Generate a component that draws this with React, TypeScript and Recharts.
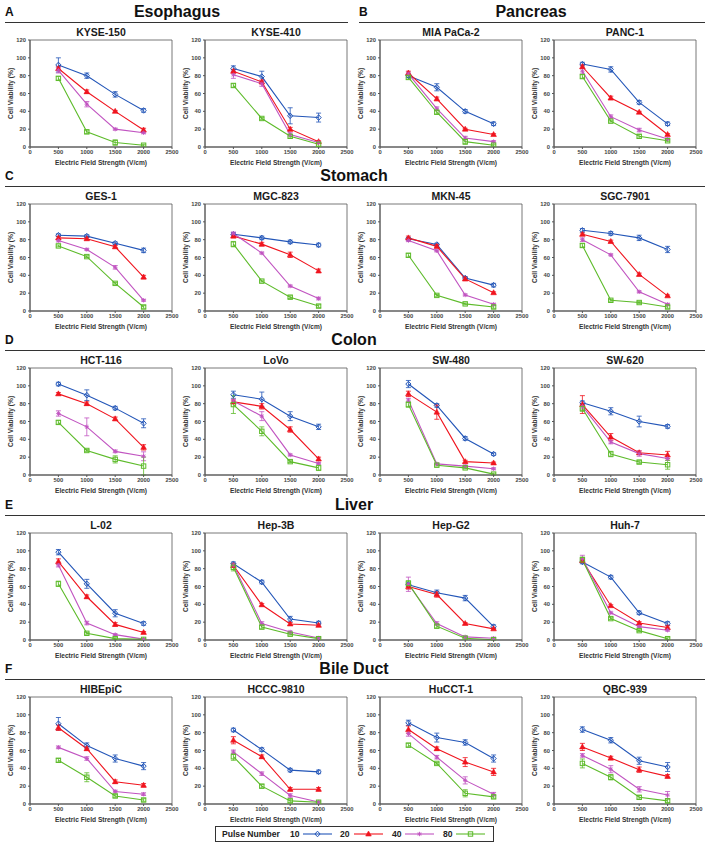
import React from 'react';
import { LineChart, Line, XAxis, YAxis, ErrorBar, ReferenceArea } from 'recharts';

// ---------- shared axes / categories ----------
const pulseNumbers = ['10', '20', '40', '80'];
const fieldStrengths = [500, 1000, 1500, 2000];
const xTicks = [0, 500, 1000, 1500, 2000, 2500];
const yTicks = [0, 20, 40, 60, 80, 100, 120];
const sectionLetters = ['A', 'B', 'C', 'D', 'E', 'F'];
const sectionTitles = ['Esophagus', 'Pancreas', 'Stomach', 'Colon', 'Liver', 'Bile Duct'];
const xAxisTitle = 'Electric Field Strength (V/cm)';
const yAxisTitle = 'Cell Viability (%)';

// ---------- values: rows = pulse 10, 20, 40, 80 ----------
const kyse150 = [[92, 80, 59, 41], [88, 62, 40, 19], [86, 48, 20, 16], [77, 17, 5, 2]];
const kyse150Err = [[8, 3, 3, 2], [2, 2, 1, 2], [3, 3, 1, 1], [2, 2, 3, 1]];
const kyse410 = [[88, 79, 35, 33], [85, 73, 20, 6], [81, 71, 14, 5], [69, 32, 12, 3]];
const kyse410Err = [[3, 6, 9, 5], [2, 2, 2, 1], [4, 3, 2, 1], [2, 1, 2, 2]];
const miaPaca2 = [[80, 67, 40, 26], [83, 54, 20, 14], [82, 43, 10, 6], [78, 39, 6, 2]];
const miaPaca2Err = [[2, 4, 2, 2], [2, 2, 1, 1], [2, 2, 2, 1], [2, 2, 3, 1]];
const panc1 = [[93, 87, 50, 26], [90, 55, 39, 14], [85, 34, 19, 9], [79, 29, 12, 7]];
const panc1Err = [[2, 3, 2, 2], [2, 2, 1, 1], [3, 2, 2, 1], [2, 1, 2, 1]];

const ges1 = [[85, 84, 76, 68], [82, 81, 72, 38], [79, 69, 49, 12], [73, 61, 31, 4.5]];
const ges1Err = [[1.5, 1.5, 1.5, 2.5], [1.5, 1.5, 1.5, 2], [1.5, 1, 2, 1], [1, 1, 1, 1.5]];
const mgc823 = [[86, 82, 77.5, 74], [84, 75, 63, 45], [87, 65, 28, 14], [75, 33.5, 15.5, 5.5]];
const mgc823Err = [[2, 2, 2, 2], [2, 2, 3, 2], [1.5, 1, 1, 1.5], [3, 1, 1.5, 1.5]];
const mkn45 = [[81, 74.5, 37, 29], [82, 72.5, 36, 20.5], [79, 67.5, 18, 7.5], [62.5, 17.5, 8, 4.5]];
const mkn45Err = [[1.5, 1.5, 1.5, 2], [2, 2, 2, 1], [1, 1, 1, 1], [2, 1, 1, 1.5]];
const sgc7901 = [[90.5, 87, 82, 69], [86, 78, 41, 17], [80, 63, 21.5, 7.5], [73.5, 12, 9.5, 4.5]];
const sgc7901Err = [[2, 2, 3, 3.5], [1.5, 1.5, 1.5, 1], [2, 1, 1, 1], [2, 1, 1, 1.5]];

const hct116 = [[102, 89.5, 75, 58], [91, 80, 63, 31], [69, 54, 26.5, 21], [59, 27.5, 17.5, 10]];
const hct116Err = [[2, 6, 2, 5], [1.5, 2, 2, 3], [3, 10, 1.5, 5], [2, 1, 4, 10]];
const lovo = [[90, 85, 66, 54], [82, 77, 51, 18], [83, 66, 22.5, 13], [79, 49, 15, 8]];
const lovoErr = [[4, 8, 5, 3], [2, 3, 3, 2], [2, 5, 1, 1], [10, 5, 1, 3]];
const sw480 = [[102, 78, 41, 23.5], [91, 70.5, 15, 13.5], [84, 12.5, 10, 7], [79, 11, 8, 1]];
const sw480Err = [[4, 2, 2, 1.5], [3, 8, 1.5, 1], [2, 1, 1, 1], [3, 1, 1, 1]];
const sw620 = [[81, 71.5, 60, 54.5], [79, 42.5, 25, 22.5], [77, 37, 24, 18.5], [74.5, 23.5, 14.5, 11.5]];
const sw620Err = [[2, 4, 6, 2], [10, 4, 2, 4], [3, 2, 3, 2], [3, 3, 1.5, 5]];

const l02 = [[98.5, 63, 30, 18.5], [88, 48.5, 17.5, 8.5], [84, 19, 6, 1], [63, 7.5, 1.5, 0.7]];
const l02Err = [[3, 5, 4, 2], [3, 2, 2, 1], [2, 2, 1, 0.5], [3, 1, 1, 0.5]];
const hep3b = [[85.5, 65, 23.5, 19], [83.5, 39.5, 18, 16.5], [84, 18.5, 9, 2.2], [81.5, 14.5, 6.5, 1.5]];
const hep3bErr = [[2, 2, 3, 2], [2, 1.5, 1.5, 1.5], [2, 2, 1, 1], [4, 2, 1, 1]];
const hepG2 = [[62, 53, 47, 15], [60, 51, 18.5, 12.5], [62.5, 18.5, 3.5, 2], [63.5, 15.5, 2, 0.3]];
const hepG2Err = [[2, 3, 3, 2], [3, 3, 1, 1], [8, 2, 1, 1], [3, 2, 1, 0.5]];
const huh7 = [[87.5, 70.5, 30.5, 18.5], [89, 38.5, 19, 14], [91, 30.5, 15, 11], [90, 24, 10.5, 1.5]];
const huh7Err = [[2, 2, 2, 2], [2, 1, 1.5, 2], [4, 1, 1, 1], [3, 1, 1, 1]];

const hibepic = [[90, 65.5, 51, 42.5], [85.5, 62, 25, 21], [63.5, 51, 14, 11], [49, 30, 9, 4.5]];
const hibepicErr = [[7, 3, 4, 4], [3, 2, 2, 2], [1.5, 2, 1.5, 1.5], [2, 5, 1.5, 1.5]];
const hccc9810 = [[83, 61, 38, 36], [71.5, 53, 16.5, 16.5], [58.5, 34, 9.5, 2.2], [53, 20, 3.5, 2]];
const hccc9810Err = [[2, 2, 2, 2], [4, 2, 2, 2], [2, 2, 2, 1], [4, 2, 2, 1]];
const hucct1 = [[91, 74.5, 69, 51], [83.5, 62, 47, 36], [79, 52.5, 26.5, 11], [66, 45.5, 12, 8]];
const hucct1Err = [[3, 5, 3, 4], [4, 2, 5, 4], [3, 2, 4, 2], [2, 1, 4, 1.5]];
const qbc939 = [[83.5, 71.5, 48.5, 41.5], [64, 51.5, 38.5, 31], [54.5, 39, 16.5, 10], [45.5, 30, 7.5, 3.5]];
const qbc939Err = [[3, 3, 4, 5], [4, 2, 3, 2], [2, 4, 3, 4], [5, 3, 2, 2]];

// ---------- panel table ----------
const panels: [string, number[][], number[][], number, number][] = [
  ['KYSE-150', kyse150, kyse150Err, 0, 0],
  ['KYSE-410', kyse410, kyse410Err, 0, 1],
  ['MIA PaCa-2', miaPaca2, miaPaca2Err, 0, 2],
  ['PANC-1', panc1, panc1Err, 0, 3],
  ['GES-1', ges1, ges1Err, 1, 0],
  ['MGC-823', mgc823, mgc823Err, 1, 1],
  ['MKN-45', mkn45, mkn45Err, 1, 2],
  ['SGC-7901', sgc7901, sgc7901Err, 1, 3],
  ['HCT-116', hct116, hct116Err, 2, 0],
  ['LoVo', lovo, lovoErr, 2, 1],
  ['SW-480', sw480, sw480Err, 2, 2],
  ['SW-620', sw620, sw620Err, 2, 3],
  ['L-02', l02, l02Err, 3, 0],
  ['Hep-3B', hep3b, hep3bErr, 3, 1],
  ['Hep-G2', hepG2, hepG2Err, 3, 2],
  ['Huh-7', huh7, huh7Err, 3, 3],
  ['HIBEpiC', hibepic, hibepicErr, 4, 0],
  ['HCCC-9810', hccc9810, hccc9810Err, 4, 1],
  ['HuCCT-1', hucct1, hucct1Err, 4, 2],
  ['QBC-939', qbc939, qbc939Err, 4, 3],
];

// ---------- styling / layout ----------
const colors = ['#2356b8', '#f0141e', '#c154c1', '#5dbb2a'];
const FONT = 'Arial, "Liberation Sans", Helvetica, sans-serif';
const colLeft = [30, 205, 380, 554];
const rowTop = [40, 204, 368, 533, 697];
const PW = 142;
const PH = 107;
const AXW = 30;
const MT = 4;
const MR = 9;
const XH = 12;

const Marker = ({ k, cx, cy }: { k: number; cx: number; cy: number }) => {
  const c = colors[k];
  if (k === 0) {
    return (
      <polygon
        points={`${cx},${cy - 2.8} ${cx + 2.6},${cy} ${cx},${cy + 2.8} ${cx - 2.6},${cy}`}
        fill="none"
        stroke={c}
        strokeWidth={1}
      />
    );
  }
  if (k === 1) {
    return (
      <polygon
        points={`${cx},${cy - 3} ${cx + 2.8},${cy + 2} ${cx - 2.8},${cy + 2}`}
        fill={c}
        stroke={c}
        strokeWidth={0.6}
      />
    );
  }
  if (k === 2) {
    return (
      <g stroke={c} strokeWidth={0.9}>
        <line x1={cx - 2.2} y1={cy} x2={cx + 2.2} y2={cy} />
        <line x1={cx} y1={cy - 2.2} x2={cx} y2={cy + 2.2} />
        <line x1={cx - 1.6} y1={cy - 1.6} x2={cx + 1.6} y2={cy + 1.6} />
        <line x1={cx - 1.6} y1={cy + 1.6} x2={cx + 1.6} y2={cy - 1.6} />
      </g>
    );
  }
  return <rect x={cx - 2.2} y={cy - 2.2} width={4.4} height={4.4} fill="none" stroke={c} strokeWidth={1} />;
};

const makeDot = (k: number) => (p: any) => {
  const { cx, cy, index } = p;
  if (cx == null || cy == null) return <g key={`d${k}-${index}`} />;
  return (
    <g key={`d${k}-${index}`}>
      <Marker k={k} cx={cx} cy={cy} />
    </g>
  );
};

const YLabel = (props: any) => {
  const vb = props.viewBox || {};
  const x = (vb.x || 0) + 10;
  const y = (vb.y || 0) + (vb.height || 0) / 2;
  return (
    <text
      x={x}
      y={y}
      transform={`rotate(-90 ${x} ${y})`}
      textAnchor="middle"
      dominantBaseline="central"
      fontSize={6.6}
      fontWeight="bold"
      fontFamily={FONT}
      fill="#333"
      style={{ fill: '#333' }}
    >
      {yAxisTitle}
    </text>
  );
};

const tickStyle = { fontSize: 5.8, fill: '#444', fontWeight: 'bold' as const, fontFamily: FONT };

function Panel({ name, vals, errs, left, top }: { name: string; vals: number[][]; errs: number[][]; left: number; top: number }) {
  const data = fieldStrengths.map((x, i) => {
    const r: any = { x };
    vals.forEach((s, k) => {
      r['s' + k] = s[i];
      r['e' + k] = errs[k][i];
    });
    return r;
  });
  return (
    <>
      <div
        style={{
          position: 'absolute',
          left,
          top: top - 15,
          width: PW,
          height: 14,
          lineHeight: '14px',
          textAlign: 'center',
          fontFamily: FONT,
          fontWeight: 'bold',
          fontSize: 10.5,
          color: '#1a1a1a',
          whiteSpace: 'nowrap',
        }}
      >
        {name}
      </div>
      <div
        style={{
          position: 'absolute',
          left,
          top: top + PH + 11,
          width: PW,
          height: 10,
          lineHeight: '10px',
          textAlign: 'center',
          fontFamily: FONT,
          fontWeight: 'bold',
          fontSize: 6.6,
          color: '#333',
          whiteSpace: 'nowrap',
        }}
      >
        {xAxisTitle}
      </div>
      <div style={{ position: 'absolute', left: left - AXW, top: top - MT }}>
        <LineChart
          width={AXW + PW + MR}
          height={MT + PH + XH}
          data={data}
          margin={{ top: MT, right: MR, bottom: 0, left: 0 }}
        >
          <ReferenceArea x1={0} x2={2500} y1={0} y2={120} fill="none" stroke="#555" strokeWidth={0.8} ifOverflow="visible" />
          <XAxis
            type="number"
            dataKey="x"
            domain={[0, 2500]}
            ticks={xTicks}
            interval={0}
            height={XH}
            tick={tickStyle}
            tickSize={2}
            tickMargin={1}
            stroke="#555"
            allowDataOverflow
          />
          <YAxis
            type="number"
            domain={[0, 120]}
            ticks={yTicks}
            interval={0}
            width={AXW}
            tick={tickStyle}
            tickSize={2}
            tickMargin={2}
            stroke="#555"
            allowDataOverflow
            label={<YLabel />}
          />
          {vals.map((_, k) => (
            <Line
              key={k}
              type="linear"
              dataKey={'s' + k}
              stroke={colors[k]}
              strokeWidth={1.1}
              dot={makeDot(k)}
              activeDot={false}
              isAnimationActive={false}
            >
              <ErrorBar dataKey={'e' + k} width={2.5} strokeWidth={0.8} stroke={colors[k]} direction="y" />
            </Line>
          ))}
        </LineChart>
      </div>
    </>
  );
}

function SectionHeader({ letter, title, top, x0, x1, centerX }: { letter: string; title: string; top: number; x0: number; x1: number; centerX: number }) {
  return (
    <>
      <div
        style={{
          position: 'absolute',
          left: x0,
          top: top - 28 - 8,
          height: 16,
          lineHeight: '16px',
          fontFamily: FONT,
          fontWeight: 'bold',
          fontSize: 12,
          color: '#111',
        }}
      >
        {letter}
      </div>
      <div
        style={{
          position: 'absolute',
          left: centerX - 100,
          width: 200,
          top: top - 28 - 10,
          height: 20,
          lineHeight: '20px',
          textAlign: 'center',
          fontFamily: FONT,
          fontWeight: 'bold',
          fontSize: 16,
          color: '#111',
        }}
      >
        {title}
      </div>
      <div style={{ position: 'absolute', left: x0, width: x1 - x0, top: top - 18, height: 0, borderTop: '1.5px solid #333' }} />
    </>
  );
}

function LegendBox() {
  const items = [
    { tx: 290, lx: 303 },
    { tx: 340, lx: 354 },
    { tx: 392, lx: 405 },
    { tx: 443, lx: 456 },
  ];
  return (
    <svg style={{ position: 'absolute', left: 0, top: 0 }} width={708} height={849}>
      <rect x={215.5} y={826.5} width={278} height={15} fill="#fff" stroke="#333" strokeWidth={1} />
      <text x={222} y={834} dominantBaseline="central" fontFamily={FONT} fontWeight="bold" fontSize={8.6} fill="#222">
        Pulse Number
      </text>
      {pulseNumbers.map((p, k) => (
        <g key={p}>
          <text x={items[k].tx} y={834} dominantBaseline="central" fontFamily={FONT} fontWeight="bold" fontSize={8.6} fill="#222">
            {p}
          </text>
          <line x1={items[k].lx} y1={834} x2={items[k].lx + 29} y2={834} stroke={colors[k]} strokeWidth={1.1} />
          <Marker k={k} cx={items[k].lx + 14.5} cy={834} />
        </g>
      ))}
    </svg>
  );
}

export default function App() {
  return (
    <div style={{ position: 'absolute', left: 0, top: 0, width: 708, height: 849, background: '#fff', overflow: 'hidden' }}>
      <SectionHeader letter={sectionLetters[0]} title={sectionTitles[0]} top={rowTop[0]} x0={5} x1={348} centerX={177} />
      <SectionHeader letter={sectionLetters[1]} title={sectionTitles[1]} top={rowTop[0]} x0={359} x1={705} centerX={531} />
      {[2, 3, 4, 5].map((s, i) => (
        <SectionHeader key={s} letter={sectionLetters[s]} title={sectionTitles[s]} top={rowTop[i + 1]} x0={5} x1={705} centerX={354} />
      ))}
      {panels.map(([name, vals, errs, row, col]) => (
        <Panel key={name} name={name} vals={vals} errs={errs} left={colLeft[col]} top={rowTop[row]} />
      ))}
      <LegendBox />
    </div>
  );
}
